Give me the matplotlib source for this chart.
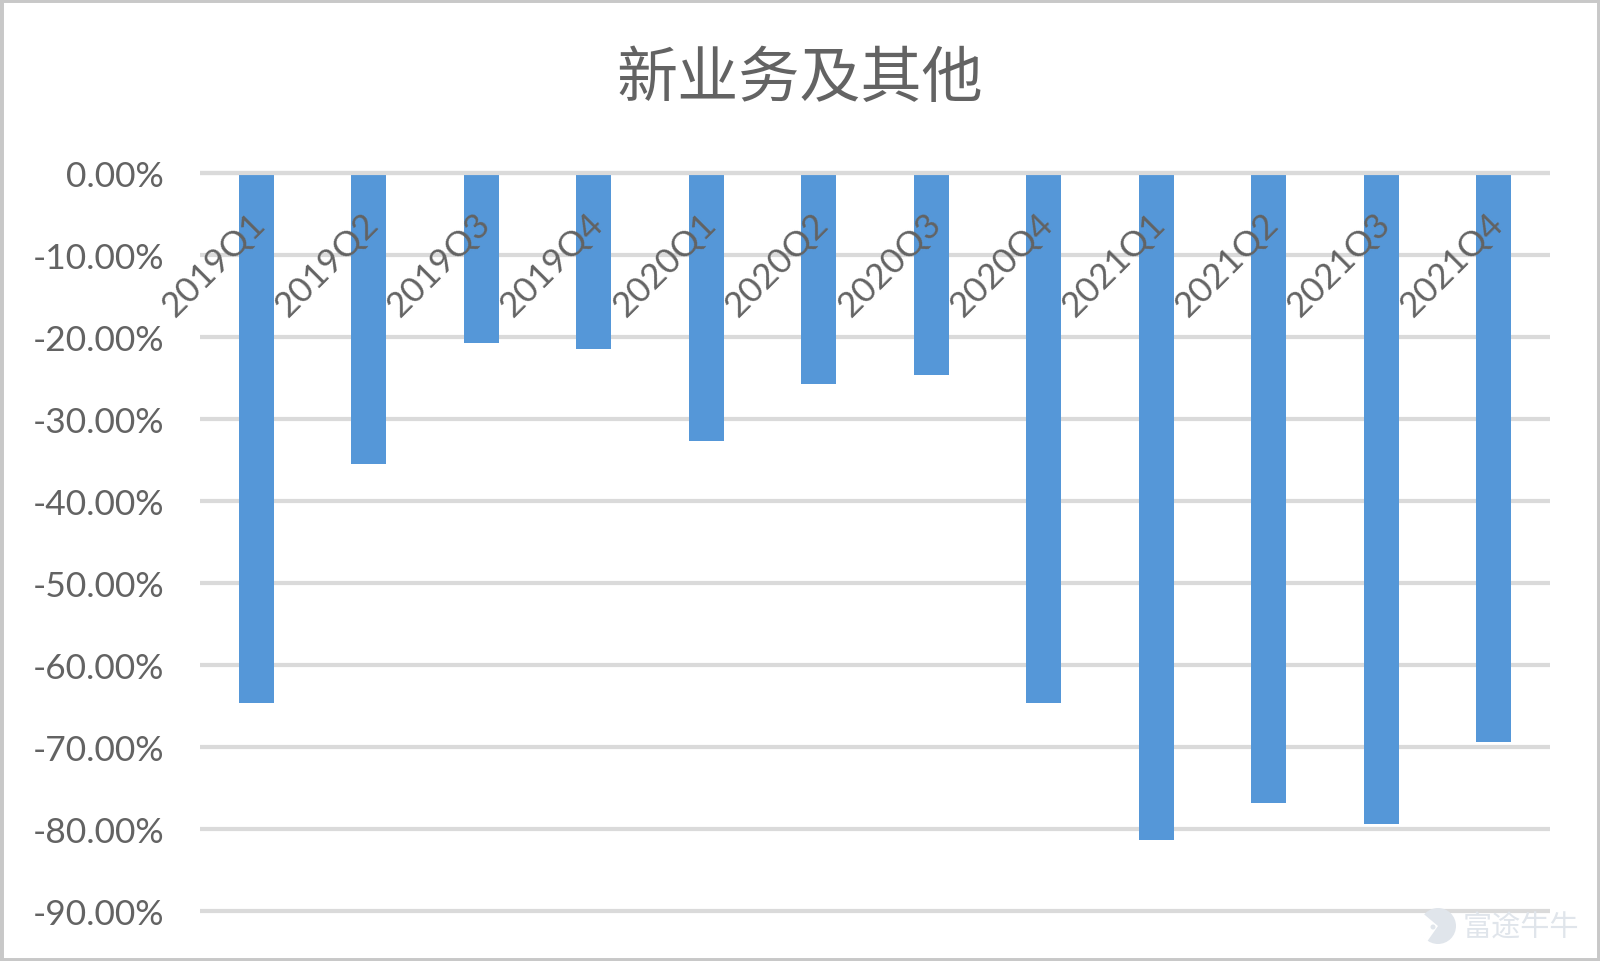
import matplotlib
matplotlib.use('Agg')
import matplotlib.pyplot as plt
from matplotlib.patches import Circle, Rectangle, Wedge

plt.rcParams['font.family'] = ['Lato', 'Noto Sans CJK SC', 'DejaVu Sans']

quarters = ['2019Q1', '2019Q2', '2019Q3', '2019Q4', '2020Q1', '2020Q2',
            '2020Q3', '2020Q4', '2021Q1', '2021Q2', '2021Q3', '2021Q4']
values = [-64.6, -35.5, -20.7, -21.5, -32.7, -25.7,
          -24.6, -64.6, -81.4, -76.8, -79.4, -69.4]
yticks = [0, -10, -20, -30, -40, -50, -60, -70, -80, -90]
text_grey = '#636363'
mark_grey = '#E0E5EB'

fig = plt.figure(figsize=(16, 9.62), dpi=100)
ax = fig.add_axes([200 / 1600, 1 - 912 / 962, 1350 / 1600, 738 / 962])

x = range(len(quarters))
ax.bar(x, values, width=0.315, color='#5597D8', zorder=3)

ax.set_xlim(-0.5, 11.5)
ax.set_ylim(-90, 0)
ax.set_yticks(yticks)
ax.set_yticklabels(['%.2f%%' % v for v in yticks], fontsize=25.5, color=text_grey)
ax.tick_params(axis='both', length=0)
ax.tick_params(axis='y', pad=26)
ax.set_xticks([])
ax.grid(axis='y', color='#DADADA', linewidth=3, zorder=0)
for line in ax.get_ygridlines():
    line.set_clip_on(False)
    line.set_solid_capstyle('butt')
ax.axhline(0, color='#DADADA', linewidth=3, zorder=4, clip_on=False, solid_capstyle='butt')
for s in ax.spines.values():
    s.set_visible(False)

# the quarter labels sit on the zero line, slanted over the bars
for i, q in enumerate(quarters):
    ax.annotate(q, (i, 0), xytext=(-5, -24), textcoords='offset points',
                rotation=45, ha='right', va='top', rotation_mode='anchor',
                fontsize=25.5, color=text_grey, zorder=5)

fig.text(0.5, 1 - 80 / 962, '新业务及其他', ha='center', va='center',
         fontsize=44, color=text_grey, family=['Noto Sans CJK SC'])

# watermark, bottom right
fig.text(1521 / 1600, 1 - 929 / 962, '富途牛牛', ha='center', va='center',
         fontsize=21, color=mark_grey, family=['Noto Sans CJK SC'])
logo = (14.38, 9.62 - 9.27)
fig.add_artist(Circle(logo, 0.18, transform=fig.dpi_scale_trans, color=mark_grey, lw=0))
fig.add_artist(Wedge(logo, 0.19, 140, 235, transform=fig.dpi_scale_trans, color='white', lw=0))
fig.add_artist(Circle((14.33, 9.62 - 9.28), 0.025, transform=fig.dpi_scale_trans, color=mark_grey, lw=0))

fig.add_artist(Rectangle((0, 0), 1, 1, transform=fig.transFigure,
                         fill=False, edgecolor='#C8C8C8', linewidth=5))
fig.savefig('out.png', dpi=100)
